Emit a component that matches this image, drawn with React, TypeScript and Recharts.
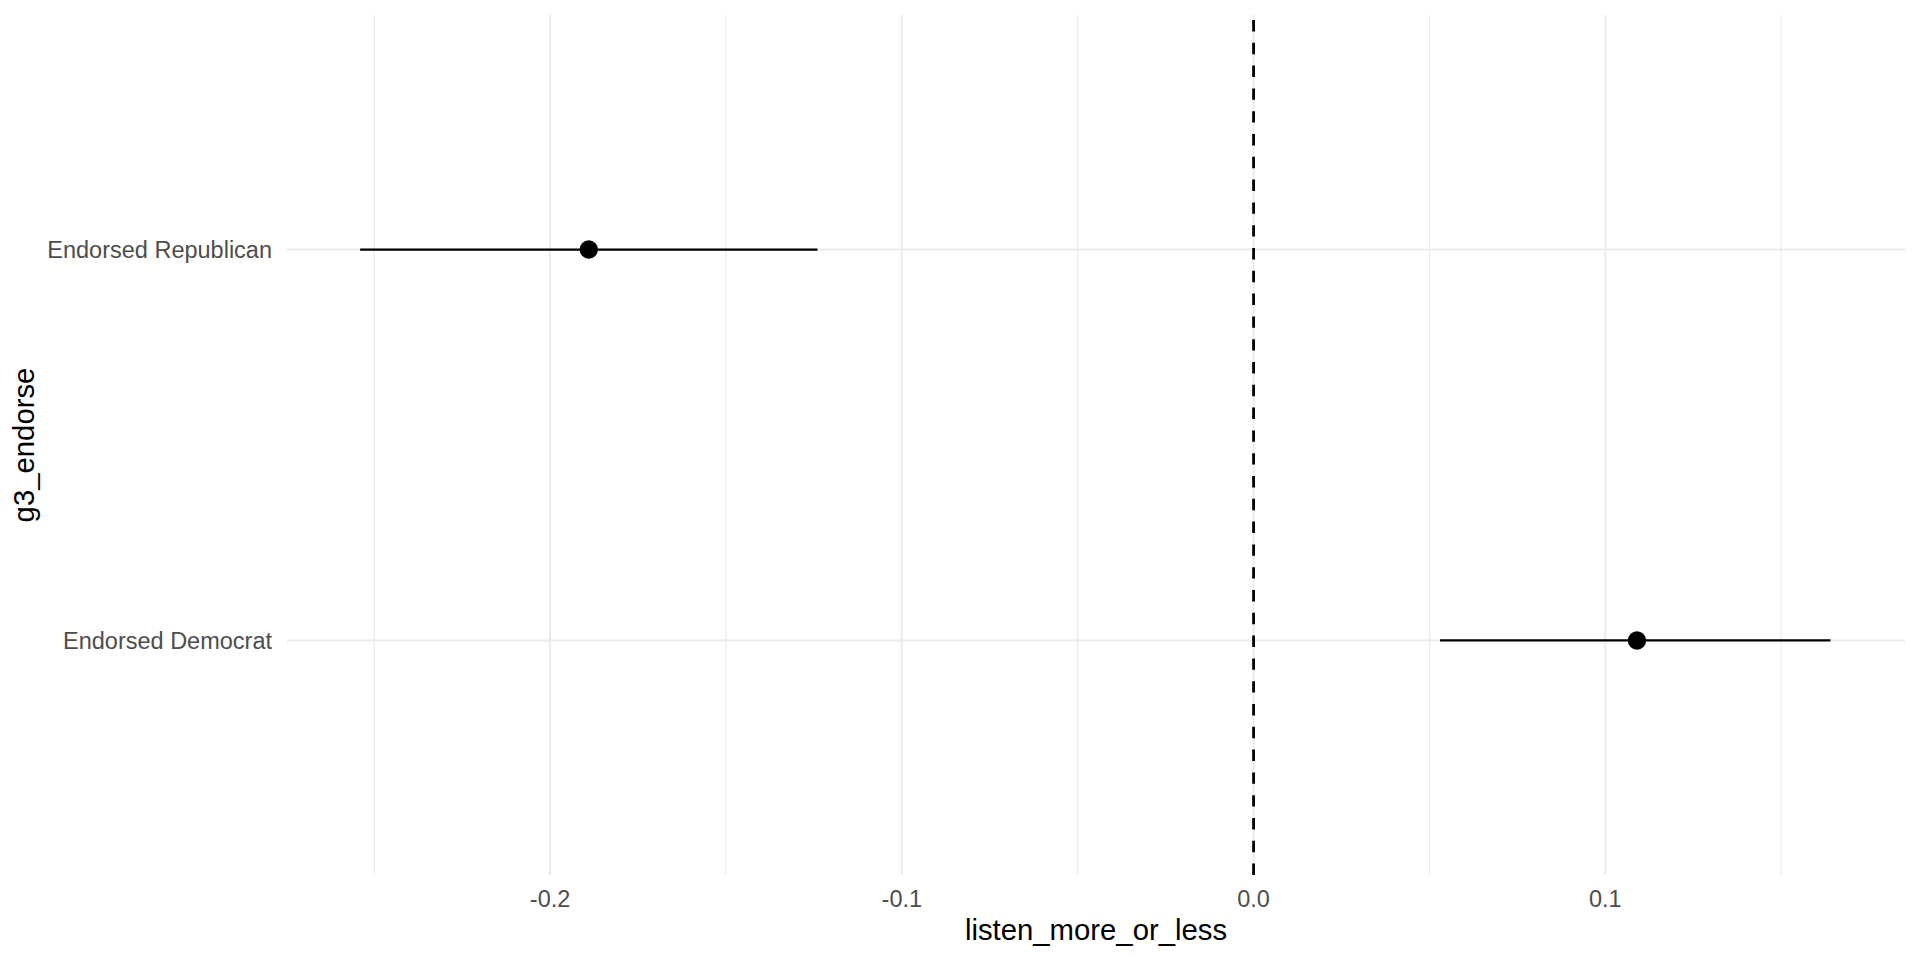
import {
  ScatterChart,
  Scatter,
  XAxis,
  YAxis,
  CartesianGrid,
  ReferenceLine,
  ErrorBar,
  Label,
} from 'recharts';

const groups = ['Endorsed Democrat', 'Endorsed Republican'];
const estimates = [0.109, -0.189];
const lower = [0.053, -0.254];
const upper = [0.164, -0.124];

const majorTicks = [-0.2, -0.1, 0, 0.1];
const minorTicks = [-0.25, -0.15, -0.05, 0.05, 0.15];
const groupTicks = [1, 2];

const FONT = '"Liberation Sans", Arial, Helvetica, sans-serif';

const rows = groups.map((g, i) => ({
  group: g,
  pos: i + 1,
  est: estimates[i],
  errX: [estimates[i] - lower[i], upper[i] - estimates[i]],
}));

export default function App() {
  return (
    <div style={{ position: 'absolute', left: 0, top: 0, width: 1920, height: 960, background: '#fff' }}>
      <ScatterChart
        width={1920}
        height={960}
        margin={{ top: 15, right: 15, left: 0, bottom: 0 }}
      >
        <CartesianGrid
          stroke='#EBEBEB'
          strokeWidth={1.2}
          horizontal={false}
          verticalValues={minorTicks}
        />
        <CartesianGrid
          stroke='#EBEBEB'
          strokeWidth={2}
          verticalValues={majorTicks}
          horizontalValues={groupTicks}
        />
        <XAxis
          type='number'
          dataKey='est'
          domain={[-0.2748, 0.1852]}
          allowDataOverflow
          ticks={majorTicks}
          tickFormatter={(v: number) => v.toFixed(1)}
          axisLine={false}
          tickLine={false}
          tickSize={6}
          tickMargin={9}
          height={85}
          tick={{ fill: '#4D4D4D', fontSize: 23.5, fontFamily: FONT }}
        >
          <Label
            content={(props: any) => {
              const vb = props.viewBox || { x: 287, y: 875, width: 1618 };
              return (
                <text
                  x={vb.x + vb.width / 2}
                  y={vb.y + 65}
                  textAnchor='middle'
                  fill='#000'
                  fontSize={29.3}
                  fontFamily={FONT}
                >
                  listen_more_or_less
                </text>
              );
            }}
          />
        </XAxis>
        <YAxis
          type='number'
          dataKey='pos'
          domain={[0.4, 2.6]}
          allowDataOverflow
          ticks={groupTicks}
          tickFormatter={(v: number) => groups[v - 1] ?? ''}
          axisLine={false}
          tickLine={false}
          tickSize={6}
          tickMargin={9}
          width={287}
          tick={{ fill: '#4D4D4D', fontSize: 23.5, fontFamily: FONT }}
        >
          <Label
            content={(props: any) => {
              const vb = props.viewBox || { x: 0, y: 15, height: 860 };
              const cx = 34;
              const cy = vb.y + vb.height / 2;
              return (
                <text
                  x={cx}
                  y={cy}
                  transform={`rotate(-90 ${cx} ${cy})`}
                  textAnchor='middle'
                  fill='#000'
                  fontSize={29.3}
                  fontFamily={FONT}
                >
                  g3_endorse
                </text>
              );
            }}
          />
        </YAxis>
        <ReferenceLine
          x={0}
          stroke='#000'
          strokeWidth={2.8}
          strokeDasharray='11.4 11.4'
        />
        <Scatter
          data={rows}
          isAnimationActive={false}
          shape={(p: any) => <circle cx={p.cx} cy={p.cy} r={9.2} fill='#000' />}
        >
          <ErrorBar
            dataKey='errX'
            direction='x'
            width={0}
            stroke='#000'
            strokeWidth={2.2}
            isAnimationActive={false}
          />
        </Scatter>
      </ScatterChart>
    </div>
  );
}
